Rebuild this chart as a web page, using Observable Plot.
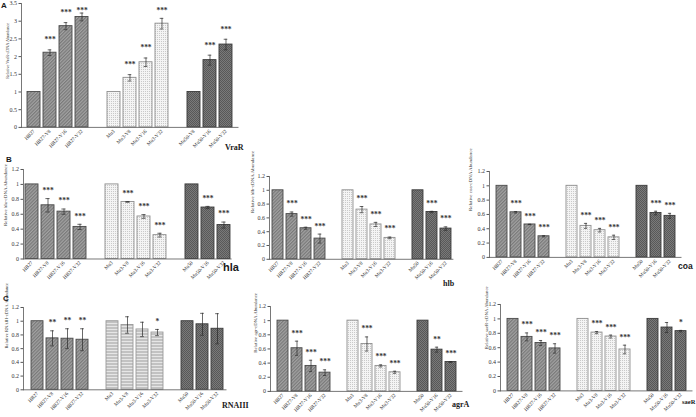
<!DOCTYPE html>
<html><head><meta charset="utf-8">
<script src="https://cdn.jsdelivr.net/npm/d3@7"></script>
<script src="https://cdn.jsdelivr.net/npm/@observablehq/plot@0.6"></script>
<style>
body{margin:0;background:#fff}
#fig{position:relative;width:696px;height:417px;overflow:hidden;background:#fff}
.lab{position:absolute;line-height:1;white-space:nowrap;color:#1a1a1a;font-weight:bold}
</style></head><body>
<svg width="0" height="0" style="position:absolute">
<defs>
<pattern id="hatch" width="2.4" height="2.4" patternUnits="userSpaceOnUse" patternTransform="rotate(45)">
  <rect width="2.4" height="2.4" fill="#a2a2a2"/>
  <line x1="0.6" y1="0" x2="0.6" y2="2.4" stroke="#767676" stroke-width="1.1"/>
</pattern>
<pattern id="dots" width="2" height="2" patternUnits="userSpaceOnUse">
  <rect width="2" height="2" fill="#f4f4f4"/>
  <rect width="1" height="1" fill="#c9c9c9"/>
</pattern>
<pattern id="cross" width="2" height="2" patternUnits="userSpaceOnUse">
  <rect width="2" height="2" fill="#7a7a7a"/>
  <rect width="1" height="1" fill="#585858"/>
  <rect x="1" y="1" width="1" height="1" fill="#585858"/>
</pattern>
<pattern id="hstripe" width="3" height="3" patternUnits="userSpaceOnUse">
  <rect width="3" height="3" fill="#c2c2c2"/>
  <line x1="0" y1="0.5" x2="3" y2="0.5" stroke="#e6e6e6" stroke-width="1"/>
</pattern>
</defs></svg>
<div id="fig"></div>
<script>
// ---------- data ----------
const catsA  = ["HB27","HB27-V8","HB27-V16","HB27-V32","Mu3","Mu3-V8","Mu3-V16","Mu3-V32","Mu50-V8","Mu50-V16","Mu50-V32"];
const catsBC = ["HB27","HB27-V8","HB27-V16","HB27-V32","Mu3","Mu3-V8","Mu3-V16","Mu3-V32","Mu50","Mu50-V16","Mu50-V32"];
const groups = ["HB27","HB27","HB27","HB27","Mu3","Mu3","Mu3","Mu3","Mu50","Mu50","Mu50"];

const ticksA  = [0, 0.5, 1, 1.5, 2, 2.5, 3, 3.5];
const ticksBC = [0, 0.2, 0.4, 0.6, 0.8, 1, 1.2];

const vraR    = [1, 2.11, 2.86, 3.12, 1, 1.40, 1.84, 2.93, 1, 1.90, 2.34];
const vraRErr = [0, 0.08, 0.10, 0.11, 0, 0.09, 0.12, 0.15, 0, 0.14, 0.15];
const vraRSig = ["","***","***","***","","***","***","***","","***","***"];

const hla     = [1, 0.72, 0.635, 0.43, 1, 0.765, 0.57, 0.32, 1, 0.69, 0.455];
const hlaErr  = [0, 0.09, 0.035, 0.035, 0, 0.005, 0.025, 0.025, 0, 0.015, 0.04];
const hlaSig  = ["","***","***","***","","***","***","***","","***","***"];

const hlb     = [1, 0.655, 0.45, 0.30, 1, 0.72, 0.505, 0.31, 1, 0.685, 0.445];
const hlbErr  = [0, 0.03, 0.015, 0.065, 0, 0.045, 0.03, 0.012, 0, 0.01, 0.025];
const hlbSig  = ["","***","***","***","","***","***","***","","***","***"];

const coa     = [1, 0.63, 0.46, 0.295, 1, 0.44, 0.38, 0.28, 1, 0.62, 0.58];
const coaErr  = [0, 0.01, 0.003, 0.008, 0, 0.035, 0.025, 0.03, 0, 0.025, 0.035];
const coaSig  = ["","***","***","***","","***","***","***","","***","***"];

const rnaiii    = [1, 0.75, 0.745, 0.73, 1, 0.945, 0.88, 0.835, 1, 0.955, 0.89];
const rnaiiiErr = [0, 0.11, 0.145, 0.16, 0, 0.12, 0.105, 0.045, 0, 0.16, 0.22];
const rnaiiiSig = ["","**","**","**","","","","*","","",""];

const agrA    = [1, 0.61, 0.36, 0.265, 1, 0.67, 0.36, 0.27, 1, 0.59, 0.415];
const agrAErr = [0, 0.10, 0.08, 0.04, 0, 0.10, 0.015, 0.015, 0, 0.035, 0.005];
const agrASig = ["","***","***","***","","***","***","***","","**","***"];

const saeR    = [1, 0.75, 0.665, 0.59, 1, 0.81, 0.755, 0.575, 1, 0.88, 0.83];
const saeRErr = [0, 0.055, 0.035, 0.065, 0, 0.015, 0.02, 0.06, 0, 0.07, 0.01];
const saeRSig = ["","***","***","***","","***","***","***","","","*"];

// ---------- drawing ----------
const fig = document.getElementById("fig");
const groupFill = {HB27: "url(#hatch)", Mu3: "url(#dots)", Mu50: "url(#cross)"};
const groupStroke = {HB27: "#4a4a4a", Mu3: "#8e8e8e", Mu50: "#3a3a3a"};
const fmt = d => String(+(+d).toFixed(2));

function panel(cfg) {
  const {cats, values, errs, sigs, yMax, yTicks, left0, right0, top0, bottom0,
         inset = 0, yLabel, labelX, labelY, labelSize = 5, tickSize = 6,
         xTickSize = 5.2, starDy = -8, starMax = Infinity,
         mu3Fill = "url(#dots)", mu3Stroke = "#8e8e8e"} = cfg;
  const ML = 40, MR = 6, MT = 14, MB = 36;
  const fw = right0 - left0, fh = bottom0 - top0;
  const domain = [...cats.slice(0, 4), "gap1", ...cats.slice(4, 8), "gap2", ...cats.slice(8)];
  const rows = cats.map((c, i) => ({
    cat: c, value: values[i], err: errs[i], sig: sigs[i],
    fill: groups[i] === "Mu3" ? mu3Fill : groupFill[groups[i]],
    stroke: groups[i] === "Mu3" ? mu3Stroke : groupStroke[groups[i]]
  }));
  const errRows = rows.filter(d => d.err > 0);
  const sigRows = rows.filter(d => d.sig);
  const step = (fw - inset) / 13;
  const capInset = Math.max(0, (step * 0.8 - 4) / 2);
  const svg = Plot.plot({
    width: ML + fw + MR,
    height: MT + fh + MB,
    marginLeft: ML, marginRight: MR, marginTop: MT, marginBottom: MB,
    style: {fontFamily: "'Liberation Serif', serif", fontSize: "6px", color: "#333", background: "transparent", overflow: "visible"},
    x: {type: "band", domain, paddingInner: 0.2, paddingOuter: 0.1, insetLeft: inset, axis: null},
    y: {domain: [0, yMax], axis: null},
    color: {type: "identity"},
    marks: [
      Plot.barY(rows, {x: "cat", y: "value", fill: "fill", stroke: "stroke", strokeWidth: 0.9}),
      Plot.ruleX(errRows, {x: "cat", y1: d => d.value - d.err, y2: d => d.value + d.err, stroke: "#2a2a2a", strokeWidth: 0.7}),
      Plot.tickY(errRows, {x: "cat", y: d => d.value + d.err, insetLeft: capInset, insetRight: capInset, stroke: "#2a2a2a", strokeWidth: 0.7}),
      Plot.tickY(errRows, {x: "cat", y: d => d.value - d.err, insetLeft: capInset, insetRight: capInset, stroke: "#2a2a2a", strokeWidth: 0.7}),
      Plot.text(sigRows, {x: "cat", y: d => Math.min(d.value + d.err, starMax), text: "sig", dy: starDy, fontSize: 7.5, fontWeight: "bold", fill: "#333", fontFamily: "'Liberation Serif', serif"}),
      Plot.ruleY([0], {stroke: "#555", strokeWidth: 0.8}),
      Plot.frame({anchor: "left", stroke: "#555", strokeWidth: 0.8}),
      Plot.axisY({ticks: yTicks, tickFormat: fmt, tickSize: 2.5, tickPadding: 2, fontSize: tickSize, label: null, stroke: "#555"}),
      Plot.axisX({tickRotate: -45, tickSize: 0, tickPadding: 3, fontSize: xTickSize, label: null,
                  tickFormat: d => d.startsWith("gap") ? "" : d}),
      Plot.text([yLabel], {text: d => d, frameAnchor: "left", rotate: -90,
                 dx: labelX - left0, dy: labelY - (top0 + fh / 2), fontSize: labelSize, fill: "#333"})
    ]
  });
  svg.style.position = "absolute";
  svg.style.left = (left0 - ML) + "px";
  svg.style.top = (top0 - MT) + "px";
  svg.style.maxWidth = "none";
  fig.appendChild(svg);
}

function label(text, x, baseline, size, family) {
  const d = document.createElement("div");
  d.className = "lab";
  d.textContent = text;
  d.style.left = x + "px";
  d.style.top = (baseline - 0.88 * size) + "px";
  d.style.fontSize = size + "px";
  d.style.fontFamily = family;
  fig.appendChild(d);
}

// Panel A
panel({cats: catsA, values: vraR, errs: vraRErr, sigs: vraRSig, yMax: 3.5, yTicks: ticksA,
  left0: 20.5, right0: 238, top0: 2.8, bottom0: 126.7, yLabel: "Relative VraR-cDNA Abundance",
  labelX: 7, labelY: 78, labelSize: 4.2, starDy: -10, starMax: 3.02});
// Panel B
panel({cats: catsBC, values: hla, errs: hlaErr, sigs: hlaSig, yMax: 1.2, yTicks: ticksBC,
  left0: 23, right0: 231.6, top0: 168.5, bottom0: 258, inset: 0.4, yLabel: "Relative hla-cDNA Abundance",
  labelX: 5, labelY: 225, labelSize: 5});
panel({cats: catsBC, values: hlb, errs: hlbErr, sigs: hlbSig, yMax: 1.2, yTicks: ticksBC,
  left0: 269, right0: 453.4, top0: 175.5, bottom0: 258.3, yLabel: "Relative hlb-cDNA Abundance",
  labelX: 252, labelY: 212, labelSize: 5});
panel({cats: catsBC, values: coa, errs: coaErr, sigs: coaSig, yMax: 1.2, yTicks: ticksBC,
  left0: 489, right0: 681.5, top0: 171.4, bottom0: 257.3, yLabel: "Relative coa-cDNA Abundance",
  labelX: 470, labelY: 211, labelSize: 5});
// Panel C
panel({cats: catsBC, values: rnaiii, errs: rnaiiiErr, sigs: rnaiiiSig, yMax: 1.2, yTicks: ticksBC,
  left0: 23, right0: 226.5, top0: 307, bottom0: 389.3, inset: 3.5, yLabel: "Relative RNAIII-cDNA Abundance",
  labelX: 6, labelY: 348, labelSize: 4.6, mu3Fill: "url(#hstripe)", mu3Stroke: "#9a9a9a"});
panel({cats: catsBC, values: agrA, errs: agrAErr, sigs: agrASig, yMax: 1.2, yTicks: ticksBC,
  left0: 270, right0: 462.5, top0: 305.8, bottom0: 390.7, inset: 1.5, yLabel: "Relative agr-cDNA Abundance",
  labelX: 255, labelY: 352, labelSize: 4.8});
panel({cats: catsBC, values: saeR, errs: saeRErr, sigs: saeRSig, yMax: 1.2, yTicks: ticksBC,
  left0: 500, right0: 692.5, top0: 304.3, bottom0: 390.7, inset: 1.5, yLabel: "Relative saeR-cDNA Abundance",
  labelX: 486, labelY: 349, labelSize: 4.8});

// panel letters and gene names
const sans = "'Liberation Sans', Arial, sans-serif";
const serif = "'Liberation Serif', serif";
label("A", 1, 9, 8, sans);
label("B", 6, 163, 8, sans);
label("C", 3, 302, 8, sans);
label("VraR", 225, 151, 8, serif);
label("hla", 223, 272, 11, sans);
label("hlb", 443, 287, 8, serif);
label("coa", 678, 269, 8.5, sans);
label("RNAIII", 222, 409, 8, serif);
label("agrA", 452, 408, 8, serif);
label("saeR", 682, 405, 6.5, serif);
</script>
</body></html>
